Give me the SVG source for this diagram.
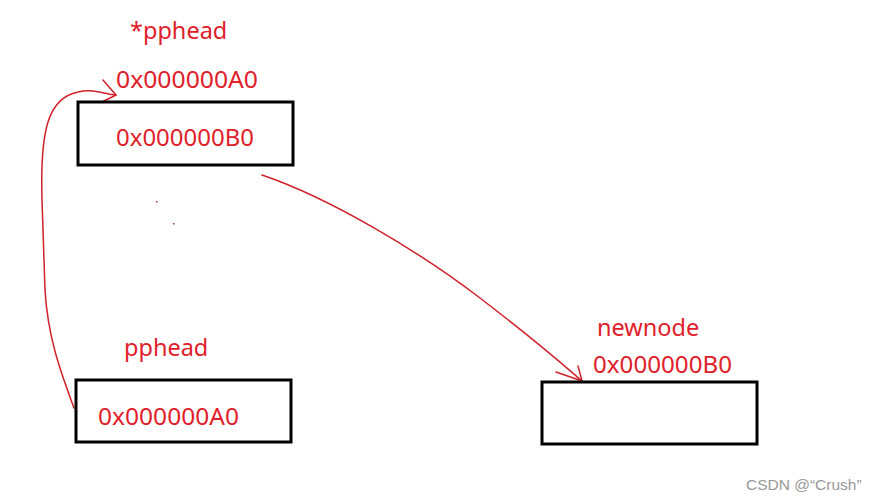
<svg xmlns="http://www.w3.org/2000/svg" width="878" height="501" viewBox="0 0 878 501">
<style>
.box{fill:none;stroke:#000;stroke-width:3}
.t{fill:#e0202a;font-family:"Noto Sans","Open Sans",sans-serif;font-size:23.5px}
.c{fill:none;stroke:#d0202a;stroke-width:1.5;stroke-linecap:round;stroke-linejoin:round}
.wm{fill:#999;font-family:"Liberation Sans",Arial,sans-serif;font-size:15.5px}
</style>
<rect width="878" height="501" fill="#fff"/>
<g id="connectors">
<path class="c" d="M74,408 C 62,375 48,340 45,290 L 42,200 C 40,130 48,98 78,92 C 95,88 105,95 116,95"/>
<path class="c" d="M103,80 L116,95 L102,102"/>
<path class="c" d="M262,175 C 330,198 420,252 480,298 S 560,362 582,381"/>
<path class="c" d="M578,366 L582,381 L556,372"/>
</g>
<g id="node-pphead-target">
<text class="t" x="130" y="39">*pphead</text>
<text class="t" x="116" y="88" textLength="142" lengthAdjust="spacingAndGlyphs">0x000000A0</text>
<rect class="box" x="78" y="102" width="215" height="63"/>
<text class="t" x="116" y="146" textLength="138" lengthAdjust="spacingAndGlyphs">0x000000B0</text>
</g>
<g id="node-pphead">
<text class="t" x="124" y="356">pphead</text>
<rect class="box" x="76" y="380" width="215" height="62"/>
<text class="t" x="98" y="425" textLength="141" lengthAdjust="spacingAndGlyphs">0x000000A0</text>
</g>
<g id="node-newnode">
<text class="t" x="597" y="336">newnode</text>
<text class="t" x="593" y="373" textLength="139" lengthAdjust="spacingAndGlyphs">0x000000B0</text>
<rect class="box" x="542" y="382" width="215" height="62"/>
</g>
<rect x="156" y="201" width="1.5" height="1.5" fill="#a03060"/>
<rect x="173" y="223" width="1.5" height="1.5" fill="#a03060"/>
<text class="wm" x="746" y="490">CSDN @“Crush”</text>
</svg>
